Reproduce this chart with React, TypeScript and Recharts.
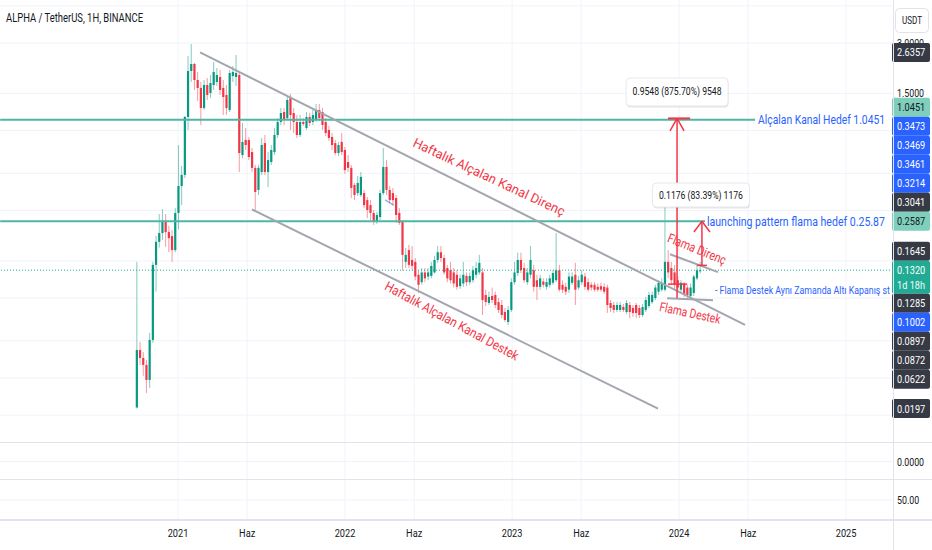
import React from 'react';
import { ComposedChart, Bar, XAxis, YAxis, CartesianGrid, ReferenceLine, ReferenceDot } from 'recharts';

const FONT = "Roboto, 'Liberation Sans', Arial, sans-serif";
const SQ = 0.8;
const W = 932;
const MAIN_H = 443;
const AXIS_W = 39;
const PLOT_R = W - AXIS_W;

const X_DOMAIN: [number, number] = [2019.934, 2025.281];
const Y_DOMAIN: [number, number] = [0.01227, 5.418];

const GREEN = '#089981';
const RED = '#f23645';
const TEAL = '#4db6a4';
const GRAY = '#a3a6ae';
const BLUE = '#2962ff';
const GRID = '#f0f3fa';
const INK = '#131722';

// weekly candles, first week early Oct 2020
const WEEK0 = 2020.754;
const WEEK = 7 / 365.25;

const OPEN = [
  0.0200, 0.0441, 0.0395, 0.0359, 0.0292, 0.0506, 0.142, 0.195, 0.220, 0.256,
  0.223, 0.211, 0.174, 0.290, 0.420, 0.489, 1.085, 2.041, 2.248, 1.804,
  1.617, 1.227, 1.684, 1.509, 1.684, 1.755, 1.880, 1.617, 1.468, 1.194,
  1.905, 1.880, 1.932, 0.643, 0.791, 0.791, 0.670, 0.539, 0.398, 0.509,
  0.758, 0.509, 0.584, 0.670, 0.847, 1.013, 1.162, 1.070, 1.409, 1.146,
  1.013, 0.847, 1.013, 0.932, 1.085, 1.013, 1.041, 1.194, 1.162, 1.013,
  0.907, 0.824, 0.758, 0.661, 0.770, 0.689, 0.584, 0.539, 0.426, 0.381,
  0.371, 0.381, 0.346, 0.323, 0.290, 0.256, 0.274, 0.381, 0.546, 0.398,
  0.381, 0.356, 0.290, 0.256, 0.148, 0.174, 0.152, 0.148, 0.124, 0.112,
  0.128, 0.121, 0.122, 0.128, 0.152, 0.169, 0.156, 0.136, 0.132, 0.128,
  0.124, 0.106, 0.110, 0.122, 0.112, 0.115, 0.124, 0.128, 0.128, 0.0939,
  0.0841, 0.0926, 0.0939, 0.0852, 0.0818, 0.0743, 0.0648, 0.0764, 0.112, 0.127,
  0.152, 0.136, 0.112, 0.124, 0.132, 0.115, 0.105, 0.113, 0.105, 0.108,
  0.111, 0.115, 0.132, 0.108, 0.105, 0.101, 0.111, 0.124, 0.104, 0.112,
  0.121, 0.112, 0.108, 0.108, 0.105, 0.106, 0.105, 0.104, 0.0841, 0.0818,
  0.0764, 0.0764, 0.0796, 0.0743, 0.0818, 0.0785, 0.0818, 0.0785, 0.0713, 0.0764,
  0.0807, 0.0852, 0.0900, 0.0983, 0.101, 0.101, 0.148, 0.136, 0.128, 0.115,
  0.101, 0.110, 0.104, 0.0926, 0.0965, 0.118, 0.130,
];
const HIGH = [
  0.148, 0.0492, 0.0429, 0.0384, 0.0557, 0.148, 0.211, 0.286, 0.306, 0.286,
  0.243, 0.229, 0.310, 0.738, 0.553, 1.100, 2.508, 2.960, 2.279, 2.014,
  1.755, 1.804, 1.854, 1.932, 2.310, 2.127, 2.070, 1.804, 1.684, 2.070,
  2.186, 2.544, 2.014, 0.999, 0.932, 0.824, 0.708, 0.561, 0.561, 0.813,
  0.847, 0.670, 0.738, 0.932, 1.070, 1.227, 1.227, 1.448, 1.489, 1.227,
  1.115, 1.115, 1.070, 1.162, 1.146, 1.227, 1.298, 1.298, 1.227, 1.070,
  0.958, 0.870, 0.791, 0.770, 0.870, 0.718, 0.643, 0.561, 0.438, 0.482,
  0.509, 0.398, 0.361, 0.346, 0.302, 0.294, 0.398, 0.708, 0.600, 0.420,
  0.409, 0.371, 0.310, 0.263, 0.179, 0.187, 0.184, 0.156, 0.132, 0.136,
  0.136, 0.136, 0.148, 0.161, 0.184, 0.184, 0.163, 0.142, 0.148, 0.136,
  0.132, 0.124, 0.148, 0.128, 0.128, 0.140, 0.148, 0.163, 0.136, 0.101,
  0.0983, 0.104, 0.0983, 0.0900, 0.0876, 0.0785, 0.0807, 0.118, 0.148, 0.168,
  0.168, 0.146, 0.136, 0.184, 0.142, 0.124, 0.124, 0.118, 0.118, 0.124,
  0.132, 0.220, 0.142, 0.115, 0.111, 0.128, 0.128, 0.146, 0.122, 0.132,
  0.127, 0.118, 0.112, 0.112, 0.110, 0.111, 0.110, 0.108, 0.0876, 0.0852,
  0.0852, 0.0852, 0.0830, 0.0876, 0.0852, 0.0818, 0.0841, 0.0818, 0.0830, 0.0914,
  0.0983, 0.0983, 0.108, 0.115, 0.118, 0.323, 0.174, 0.148, 0.142, 0.122,
  0.115, 0.112, 0.108, 0.110, 0.124, 0.142, 0.148,
];
const LOW = [
  0.0197, 0.0359, 0.0309, 0.0244, 0.0262, 0.0486, 0.0983, 0.180, 0.200, 0.182,
  0.169, 0.148, 0.169, 0.232, 0.323, 0.469, 0.907, 1.755, 1.573, 1.352,
  0.972, 1.194, 1.371, 1.409, 1.573, 1.660, 1.468, 1.115, 1.115, 1.162,
  1.755, 1.660, 0.509, 0.617, 0.689, 0.600, 0.509, 0.302, 0.371, 0.489,
  0.489, 0.414, 0.561, 0.643, 0.813, 0.972, 0.972, 1.041, 0.907, 0.870,
  0.813, 0.824, 0.958, 0.907, 0.958, 0.972, 1.013, 1.026, 0.907, 0.835,
  0.780, 0.689, 0.643, 0.634, 0.643, 0.496, 0.509, 0.356, 0.346, 0.366,
  0.361, 0.310, 0.270, 0.263, 0.246, 0.249, 0.263, 0.371, 0.371, 0.332,
  0.323, 0.253, 0.246, 0.132, 0.136, 0.136, 0.132, 0.115, 0.0965, 0.108,
  0.112, 0.115, 0.118, 0.126, 0.146, 0.148, 0.124, 0.112, 0.110, 0.104,
  0.101, 0.102, 0.105, 0.106, 0.108, 0.111, 0.118, 0.124, 0.0713, 0.0807,
  0.0818, 0.0841, 0.0785, 0.0733, 0.0684, 0.0648, 0.0622, 0.0743, 0.108, 0.122,
  0.127, 0.111, 0.108, 0.118, 0.0983, 0.0876, 0.101, 0.104, 0.101, 0.104,
  0.108, 0.112, 0.0983, 0.0965, 0.0939, 0.0965, 0.108, 0.0818, 0.101, 0.108,
  0.101, 0.0983, 0.0996, 0.0983, 0.0983, 0.0983, 0.0952, 0.0733, 0.0743, 0.0733,
  0.0743, 0.0743, 0.0743, 0.0723, 0.0684, 0.0694, 0.0684, 0.0684, 0.0694, 0.0743,
  0.0785, 0.0830, 0.0876, 0.0939, 0.0983, 0.0983, 0.118, 0.108, 0.101, 0.0983,
  0.0965, 0.0914, 0.0876, 0.0876, 0.0926, 0.115, 0.126,
];
const CLOSE = [
  0.0441, 0.0395, 0.0359, 0.0292, 0.0506, 0.142, 0.195, 0.220, 0.256, 0.223,
  0.205, 0.174, 0.290, 0.420, 0.489, 1.085, 2.041, 2.248, 1.804, 1.617,
  1.227, 1.684, 1.468, 1.731, 2.014, 1.932, 1.573, 1.428, 1.227, 1.986,
  2.014, 1.986, 0.661, 0.770, 0.738, 0.626, 0.539, 0.387, 0.539, 0.738,
  0.509, 0.600, 0.689, 0.847, 1.013, 1.146, 1.041, 1.371, 1.115, 1.013,
  0.847, 1.013, 0.986, 1.085, 0.999, 1.115, 1.194, 1.070, 0.972, 0.870,
  0.813, 0.738, 0.661, 0.738, 0.670, 0.523, 0.539, 0.409, 0.371, 0.438,
  0.476, 0.323, 0.302, 0.290, 0.256, 0.282, 0.381, 0.546, 0.398, 0.346,
  0.346, 0.282, 0.253, 0.163, 0.163, 0.142, 0.140, 0.121, 0.108, 0.128,
  0.118, 0.128, 0.140, 0.152, 0.169, 0.156, 0.128, 0.118, 0.115, 0.110,
  0.105, 0.118, 0.124, 0.112, 0.122, 0.132, 0.136, 0.146, 0.0876, 0.0852,
  0.0914, 0.0876, 0.0818, 0.0764, 0.0713, 0.0666, 0.0764, 0.112, 0.128, 0.152,
  0.132, 0.115, 0.128, 0.152, 0.105, 0.105, 0.118, 0.108, 0.112, 0.118,
  0.127, 0.132, 0.101, 0.101, 0.0983, 0.121, 0.121, 0.101, 0.115, 0.124,
  0.105, 0.101, 0.104, 0.101, 0.101, 0.101, 0.0983, 0.0818, 0.0785, 0.0764,
  0.0818, 0.0818, 0.0764, 0.0841, 0.0743, 0.0733, 0.0733, 0.0713, 0.0796, 0.0876,
  0.0939, 0.0939, 0.104, 0.111, 0.111, 0.148, 0.128, 0.115, 0.108, 0.104,
  0.111, 0.0952, 0.0939, 0.104, 0.121, 0.132, 0.1320,
];

const TIME_TICKS = [2021, 2021.414, 2022, 2022.414, 2023, 2023.414, 2024, 2024.414, 2025];
const TIME_LABELS = ['2021', 'Haz', '2022', 'Haz', '2023', 'Haz', '2024', 'Haz', '2025'];

const GRID_PRICES = [5, 3, 1.5, 0.9, 0.5, 0.3, 0.15, 0.09, 0.05, 0.03, 0.018];
const GRID_LABELS = ['', '3.0000', '1.5000', '0.9000', '0.5000', '0.3000', '0.1500', '0.0900', '0.0500', '0.0300', '0.0180'];

const TAG_PRICES = [2.6357, 1.0451, 0.3473, 0.3469, 0.3461, 0.3214, 0.3041, 0.2587, 0.1645, 0.1320, 0.1285, 0.1002, 0.0897, 0.0872, 0.0622, 0.0197];
const TAG_KINDS = ['dark', 'teal', 'blue', 'blue', 'blue', 'blue', 'dark', 'teal', 'dark', 'current', 'dark', 'blue', 'dark', 'dark', 'dark', 'dark'];
const CURRENT_PRICE = 0.1320;
const COUNTDOWN = '1d 18h';

const CANDLES = OPEN.map((o, i) => ({ t: WEEK0 + i * WEEK, open: o, high: HIGH[i], low: LOW[i], close: CLOSE[i] }));

// ---- drawings (time, price) ----
const X0 = X_DOMAIN[0] + 0.001;
const LINES: { a: [number, number]; b: [number, number]; color: string; w: number; o?: number }[] = [
  { a: [X0, 1.0451], b: [2024.455, 1.0451], color: TEAL, w: 2 },
  { a: [X0, 0.2587], b: [2024.155, 0.2587], color: TEAL, w: 2 },
  { a: [2021.132, 2.6357], b: [2024.395, 0.0622], color: GRAY, w: 2 },
  { a: [2021.443, 0.3041], b: [2023.874, 0.0197], color: GRAY, w: 2 },
  { a: [2023.946, 0.1645], b: [2024.233, 0.1285], color: GRAY, w: 2 },
  { a: [2023.928, 0.0897], b: [2024.203, 0.0872], color: GRAY, w: 2 },
  { a: [2022.239, 0.3473], b: [2022.293, 0.3214], color: BLUE, w: 1.5, o: 0.5 },
  { a: [2023.988, 0.0900], b: [2023.988, 1.0638], color: RED, w: 1.5 },
  { a: [2023.934, 1.0638], b: [2024.066, 1.0638], color: RED, w: 2 },
  { a: [2023.946, 0.895], b: [2023.988, 1.0638], color: RED, w: 1.5 },
  { a: [2024.030, 0.895], b: [2023.988, 1.0638], color: RED, w: 1.5 },
  { a: [2023.934, 0.1090], b: [2024.048, 0.1090], color: RED, w: 1.5 },
  { a: [2024.137, 0.1411], b: [2024.137, 0.2587], color: RED, w: 1.5 },
  { a: [2024.107, 0.1411], b: [2024.167, 0.1411], color: RED, w: 1.5 },
  { a: [2024.089, 0.2232], b: [2024.137, 0.2587], color: RED, w: 1.5 },
  { a: [2024.185, 0.2232], b: [2024.137, 0.2587], color: RED, w: 1.5 },
];

const NOTES: { text: string; t: number; p: number; anchor: 'start' | 'middle'; len: number; size: number; color: string; rot: number }[] = [
  { text: 'Alçalan Kanal Hedef 1.0451', t: 2024.473, p: 1.0451, anchor: 'start', len: 127, size: 13, color: BLUE, rot: 0 },
  { text: 'launching pattern flama hedef 0.25.87', t: 2024.167, p: 0.2587, anchor: 'start', len: 178, size: 13, color: BLUE, rot: 0 },
  { text: 'Haftalık Alçalan Kanal Direnç', t: 2022.862, p: 0.4755, anchor: 'middle', len: 166, size: 13, color: RED, rot: 25 },
  { text: 'Haftalık Alçalan Kanal Destek', t: 2022.640, p: 0.0657, anchor: 'middle', len: 150, size: 13, color: RED, rot: 28.5 },
  { text: 'Flama Direnç', t: 2024.107, p: 0.1767, anchor: 'middle', len: 62, size: 13, color: RED, rot: 22 },
  { text: 'Flama Destek', t: 2024.066, p: 0.0733, anchor: 'middle', len: 62, size: 13, color: RED, rot: 12 },
  { text: '- Flama Destek Aynı Zamanda Altı Kapanış st', t: 2024.215, p: 0.1002, anchor: 'start', len: 175, size: 11.5, color: BLUE, rot: 0 },
];

const BOXES = [
  { text: '0.9548 (875.70%) 9548', t: 2023.988, p: 1.530, w: 102, h: 28, len: 89 },
  { text: '0.1176 (83.39%) 1176', t: 2024.131, p: 0.371, w: 97, h: 24, len: 84 },
];

// ---- price-axis tag stacking (layout only) ----
const L0 = Math.log(Y_DOMAIN[0]);
const L1 = Math.log(Y_DOMAIN[1]);
const layoutY = (p: number) => ((L1 - Math.log(p)) / (L1 - L0)) * MAIN_H;
const TAG_H = 19;
const CUR_H = 33;
const TAG_POS = (() => {
  const ty = TAG_PRICES.map(layoutY);
  const pos = ty.slice();
  const cur = TAG_KINDS.indexOf('current');
  const order = ty.map((_, i) => i).sort((a, b) => ty[a] - ty[b]);
  const k = order.indexOf(cur);
  let top = ty[cur] - TAG_H / 2;
  for (let j = k - 1; j >= 0; j--) {
    const i = order[j];
    pos[i] = Math.min(ty[i], top - TAG_H / 2);
    top = pos[i] - TAG_H / 2;
  }
  let bottom = ty[cur] - TAG_H / 2 + CUR_H;
  for (let j = k + 1; j < order.length; j++) {
    const i = order[j];
    pos[i] = Math.max(ty[i], bottom + TAG_H / 2);
    bottom = pos[i] + TAG_H / 2;
  }
  return { pos, ty };
})();
const TAG_SHIFT = TAG_POS.pos.map((p, i) => p - TAG_POS.ty[i]);
const TAG_BOXES = TAG_POS.pos.map((p, i) => [p - TAG_H / 2, p - TAG_H / 2 + (TAG_KINDS[i] === 'current' ? CUR_H : TAG_H)]);
// a grid label is drawn only when tags do not hide most of it
const gridLabelVisible = (p: number) => {
  const c = layoutY(p);
  const a = c - 4.5, b = c + 4.5;
  let covered = 0;
  TAG_BOXES.forEach(([t, u]) => {
    covered += Math.max(0, Math.min(b, u) - Math.max(a, t));
  });
  return covered < 5;
};

const TAG_BG: Record<string, string> = { dark: '#363a45', teal: '#80cfbd', blue: BLUE, current: '#22ab94' };

const sqText = (x: number, y: number, s: string, size: number, fill: string, anchor = 'start') => (
  <text transform={`translate(${x},${y}) scale(${SQ},1)`} fontSize={size} fill={fill} fontFamily={FONT} textAnchor={anchor}>
    {s}
  </text>
);

const PriceTick = (props: any) => {
  const { y, payload } = props;
  const v = payload?.value;
  const gi = GRID_PRICES.indexOf(v);
  if (gi >= 0) {
    if (!GRID_LABELS[gi] || !gridLabelVisible(v)) return <g />;
    return sqText(PLOT_R + 4, y + 4, GRID_LABELS[gi], 11, INK);
  }
  const ti = TAG_PRICES.indexOf(v);
  if (ti < 0) return <g />;
  const cy = y + TAG_SHIFT[ti];
  const kind = TAG_KINDS[ti];
  const fg = kind === 'teal' ? INK : '#ffffff';
  const h = kind === 'current' ? CUR_H : TAG_H;
  return (
    <g>
      <rect x={PLOT_R - 1} y={cy - TAG_H / 2} width={38} height={h} rx={2} fill={TAG_BG[kind]} />
      {sqText(PLOT_R + 4, cy + 4, v.toFixed(4), 11.5, fg)}
      {kind === 'current' ? sqText(PLOT_R + 4, cy + 19, COUNTDOWN, 11.5, '#e8fff9') : null}
    </g>
  );
};

const Candle = (props: any) => {
  const { x, y, width, height, payload } = props;
  if (!payload || !Number.isFinite(x) || !Number.isFinite(y)) return <g />;
  const top = Math.min(y, y + height);
  const bot = Math.max(y, y + height);
  const lh = Math.log(payload.high);
  const ll = Math.log(payload.low);
  const span = lh - ll || 1;
  const at = (v: number) => top + ((bot - top) * (lh - Math.log(v))) / span;
  const cx = x + width / 2;
  const c = payload.close >= payload.open ? GREEN : RED;
  const yo = at(payload.open);
  const yc = at(payload.close);
  const bt = Math.min(yo, yc);
  const bh = Math.max(1, Math.abs(yo - yc));
  return (
    <g>
      <line x1={cx} x2={cx} y1={top} y2={bot} stroke={c} strokeOpacity={0.5} strokeWidth={1} />
      <rect x={cx - 1.1} y={bt} width={2.2} height={bh} fill={c} />
    </g>
  );
};

const center = (p: any) => {
  const vb = p?.viewBox || {};
  return [(vb.x ?? 0) + (vb.width ?? 0) / 2, (vb.y ?? 0) + (vb.height ?? 0) / 2];
};

const noteLabel = (n: (typeof NOTES)[number]) => (p: any) => {
  const [cx, cy] = center(p);
  return (
    <g>
      <text
        transform={`translate(${cx},${cy}) rotate(${n.rot})`}
        textAnchor={n.anchor}
        dominantBaseline="central"
        fontSize={n.size}
        fill={n.color}
        fontFamily={FONT}
        textLength={n.len}
        lengthAdjust="spacingAndGlyphs"
      >
        {n.text}
      </text>
    </g>
  );
};

const boxLabel = (b: (typeof BOXES)[number]) => (p: any) => {
  const [cx, cy] = center(p);
  return (
    <g>
      <rect x={cx - b.w / 2 + 0.5} y={cy - b.h / 2 + 1.5} width={b.w} height={b.h} rx={4} fill="rgba(0,0,0,0.10)" />
      <rect x={cx - b.w / 2} y={cy - b.h / 2} width={b.w} height={b.h} rx={4} fill="#ffffff" stroke="#e6e8ee" />
      <text x={cx} y={cy} textAnchor="middle" dominantBaseline="central" fontSize={11} fill={INK} fontFamily={FONT} textLength={b.len} lengthAdjust="spacingAndGlyphs">
        {b.text}
      </text>
    </g>
  );
};

const rangeKey = (d: any) => [d.low, d.high];

const MainChart = () => (
  <ComposedChart width={W} height={MAIN_H} data={CANDLES} margin={{ top: 0, right: 0, bottom: 0, left: 0 }}>
    <CartesianGrid stroke={GRID} horizontalValues={GRID_PRICES} verticalValues={TIME_TICKS} />
    <XAxis type="number" dataKey="t" domain={X_DOMAIN} allowDataOverflow hide ticks={TIME_TICKS} />
    <YAxis
      orientation="right"
      width={AXIS_W}
      scale="log"
      domain={Y_DOMAIN}
      allowDataOverflow
      ticks={[...GRID_PRICES, ...TAG_PRICES]}
      interval={0}
      tick={PriceTick}
      axisLine={false}
      tickLine={false}
      tickSize={0}
    />
    <ReferenceLine y={CURRENT_PRICE} stroke="#22ab94" strokeDasharray="1 2" strokeWidth={1} />
    <Bar dataKey={rangeKey} barSize={3} shape={Candle} isAnimationActive={false} />
    {LINES.map((l, i) => (
      <ReferenceLine
        key={`l${i}`}
        segment={[{ x: l.a[0], y: l.a[1] }, { x: l.b[0], y: l.b[1] }]}
        stroke={l.color}
        strokeWidth={l.w}
        strokeOpacity={l.o ?? 1}
      />
    ))}
    {NOTES.map((n, i) => (
      <ReferenceDot key={`n${i}`} x={n.t} y={n.p} r={1} fill="none" stroke="none" label={noteLabel(n)} />
    ))}
    {BOXES.map((b, i) => (
      <ReferenceDot key={`b${i}`} x={b.t} y={b.p} r={1} fill="none" stroke="none" label={boxLabel(b)} />
    ))}
  </ComposedChart>
);

const paneTick = (label: string) => (props: any) => sqText(PLOT_R + 4, props.y + 4, label, 11, INK);

const TimeTick = (props: any) => sqText(props.x, props.y + 17, TIME_LABELS[props.index] ?? '', 11.5, INK, 'middle');

const Pane2 = () => (
  <ComposedChart width={W} height={37} data={CANDLES} margin={{ top: 0, right: 0, bottom: 0, left: 0 }}>
    <CartesianGrid stroke={GRID} horizontalValues={[0]} verticalValues={TIME_TICKS} />
    <XAxis type="number" dataKey="t" domain={X_DOMAIN} allowDataOverflow hide ticks={TIME_TICKS} />
    <YAxis orientation="right" width={AXIS_W} domain={[-1, 1]} allowDataOverflow ticks={[0]} interval={0} tick={paneTick('0.0000')} axisLine={false} tickLine={false} tickSize={0} />
  </ComposedChart>
);

const Pane3 = () => (
  <ComposedChart width={W} height={70} data={CANDLES} margin={{ top: 0, right: 0, bottom: 0, left: 0 }}>
    <CartesianGrid stroke={GRID} horizontalValues={[50]} verticalValues={TIME_TICKS} />
    <XAxis
      type="number"
      dataKey="t"
      domain={X_DOMAIN}
      allowDataOverflow
      ticks={TIME_TICKS}
      interval={0}
      height={30}
      tick={TimeTick}
      axisLine={false}
      tickLine={false}
      tickSize={0}
      tickMargin={0}
    />
    <YAxis orientation="right" width={AXIS_W} domain={[0, 100]} allowDataOverflow ticks={[50]} interval={0} tick={paneTick('50.00')} axisLine={false} tickLine={false} tickSize={0} />
  </ComposedChart>
);

const hLine = (top: number, h = 1): React.CSSProperties => ({ position: 'absolute', left: 0, top, width: W, height: h, background: '#e0e3eb' });

export default function App() {
  return (
    <div style={{ position: 'absolute', left: 0, top: 0, width: W, height: 550, background: '#ffffff', overflow: 'hidden', fontFamily: FONT }}>
      <div style={{ position: 'absolute', left: 0, top: 0 }}>
        <MainChart />
      </div>
      <div style={{ position: 'absolute', left: 0, top: 443 }}>
        <Pane2 />
      </div>
      <div style={{ position: 'absolute', left: 0, top: 480 }}>
        <Pane3 />
      </div>
      <div style={hLine(442)} />
      <div style={hLine(479)} />
      <div style={hLine(519, 2)} />
      <div style={{ position: 'absolute', left: PLOT_R, top: 0, width: 1, height: 550, background: '#e0e3eb' }} />
      <svg style={{ position: 'absolute', left: 0, top: 0 }} width={300} height={30}>
        <text x={6} y={22} fontSize={12.5} fill={INK} fontFamily={FONT} textLength={137} lengthAdjust="spacingAndGlyphs">
          ALPHA / TetherUS, 1H, BINANCE
        </text>
      </svg>
      <svg style={{ position: 'absolute', left: PLOT_R, top: 0 }} width={AXIS_W} height={40}>
        <rect x={2.5} y={8.5} width={33} height={24} rx={4} fill="#ffffff" stroke="#e0e3eb" />
        <text x={19} y={24} textAnchor="middle" fontSize={10.5} fill={INK} fontFamily={FONT} textLength={20} lengthAdjust="spacingAndGlyphs">
          USDT
        </text>
      </svg>
    </div>
  );
}
